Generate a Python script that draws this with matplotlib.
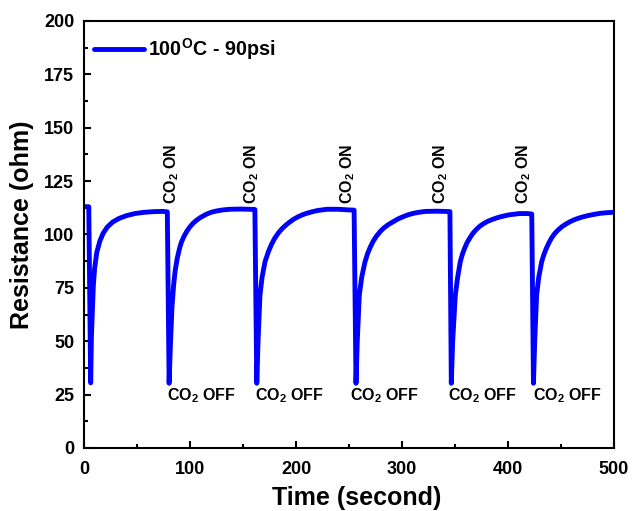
import matplotlib.pyplot as plt
from matplotlib.ticker import MultipleLocator

plt.rcParams['font.family'] = ['Liberation Sans', 'DejaVu Sans']
plt.rcParams['mathtext.fontset'] = 'custom'
plt.rcParams['mathtext.rm'] = 'Liberation Sans'
plt.rcParams['mathtext.bf'] = 'Liberation Sans:bold'

# resistance trace, one block per CO2 cycle (time in s, resistance in ohm)
time_s = [
    0, 4.5, 6.3, 7.0, 8.8, 10, 12, 15, 18, 22, 27, 33, 40, 48, 57, 66, 74, 78.6,
    80.3, 81.5, 83, 84.5, 86, 88, 90.4, 92, 94, 97, 99.8, 103, 106, 110, 115.5, 120, 125, 131, 137.5, 148, 156, 161.2,
    163, 164.2, 166, 168, 170.8, 174, 177, 180, 183.5, 187, 190.5, 194, 198, 202, 206, 210, 215, 220, 229, 240, 250, 254.8,
    256.6, 257.8, 259.7, 262, 265, 267.5, 270, 273, 276, 279.5, 283, 287, 291.8, 296, 300, 305, 310.7, 316, 322, 333, 340, 345.2,
    346.5, 347.8, 350.3, 352.5, 355, 357, 359, 361.5, 364.5, 367, 370, 373.5, 377, 381, 385, 389, 393, 401, 411, 418, 422.4,
    424, 425.2, 427, 429, 431.8, 434, 436, 438.5, 441, 444, 447, 451, 455, 459, 463, 467, 471, 476, 481, 487, 493, 500,
]
resistance = [
    113, 113, 30.5, 52, 76, 84, 91.5, 97, 100.5, 103.5, 105.8, 107.5, 108.8, 109.8, 110.4, 110.7, 110.8, 110.6,
    30.3, 48, 66, 76, 83, 89, 94, 96.5, 98.8, 101.5, 103.5, 105.3, 106.6, 108, 109.5, 110.4, 111, 111.5, 111.8, 111.9, 111.8, 111.7,
    30.3, 50, 71.6, 80, 87.3, 92, 95.5, 98.3, 100.8, 102.8, 104.4, 105.8, 107.2, 108.3, 109.2, 109.9, 110.6, 111.2, 111.8, 111.8, 111.5, 111.4,
    30.3, 50, 71.6, 80, 87, 91, 94, 97, 99.3, 101.4, 103.1, 104.6, 106, 107.2, 108.1, 109.1, 109.9, 110.4, 110.8, 110.9, 110.8, 110.7,
    30.3, 50, 71.6, 80, 87.3, 90.8, 93.5, 96.3, 98.8, 100.6, 102.3, 103.9, 105.1, 106.2, 107, 107.7, 108.3, 109.2, 109.8, 109.8, 109.6,
    30.3, 50, 71.6, 80, 87.3, 90.8, 93.3, 96, 98.3, 100.4, 102, 103.7, 105, 106.1, 107, 107.7, 108.3, 108.9, 109.4, 109.9, 110.2, 110.4,
]

# gas switching marks
on_x = [82.6, 158, 249, 336, 414.5]
on_y = 114.5
off_x = [78, 161.3, 251, 343.7, 423.3]
off_y = 28.7

fig = plt.figure(figsize=(6.33, 5.11), dpi=100)
ax = fig.add_axes([0.1327, 0.1233, 0.8373, 0.8357])

ax.plot(time_s, resistance, color='#0000FF', linewidth=3.5,
        solid_joinstyle='round', solid_capstyle='round',
        label=r'100$^{\mathbf{O}}$C - 90psi')

for x in on_x:
    ax.text(x, on_y, r'CO$_\mathbf{2}$ ON', rotation=90, ha='center',
            va='bottom', fontsize=11.5, fontweight='bold')
for x in off_x:
    ax.text(x, off_y, r'CO$_\mathbf{2}$ OFF', ha='left', va='top',
            fontsize=11.5, fontweight='bold')

ax.set_xlim(0, 500)
ax.set_ylim(0, 200)
ax.xaxis.set_major_locator(MultipleLocator(100))
ax.xaxis.set_minor_locator(MultipleLocator(50))
ax.yaxis.set_major_locator(MultipleLocator(25))
ax.yaxis.set_minor_locator(MultipleLocator(12.5))
ax.tick_params(which='both', direction='in', width=1.5, labelsize=13)
ax.tick_params(axis='x', pad=9.5)
ax.tick_params(axis='y', pad=7)
ax.tick_params(which='major', length=5)
ax.tick_params(which='minor', length=3)
for lab in ax.get_xticklabels() + ax.get_yticklabels():
    lab.set_fontweight('bold')
for sp in ax.spines.values():
    sp.set_linewidth(1.5)

ax.set_xlabel('Time (second)', fontsize=18, fontweight='bold')
ax.set_ylabel('Resistance (ohm)', fontsize=18, fontweight='bold')
ax.xaxis.set_label_coords(0.514, -0.088)
ax.yaxis.set_label_coords(-0.094, 0.522)

leg = ax.legend(loc='upper left', bbox_to_anchor=(0.018, 0.965), frameon=False,
                borderpad=0, borderaxespad=0, handlelength=2.54,
                handletextpad=0.2, prop={'size': 14.2, 'weight': 'bold'})

fig.savefig('out.png', dpi=100)
